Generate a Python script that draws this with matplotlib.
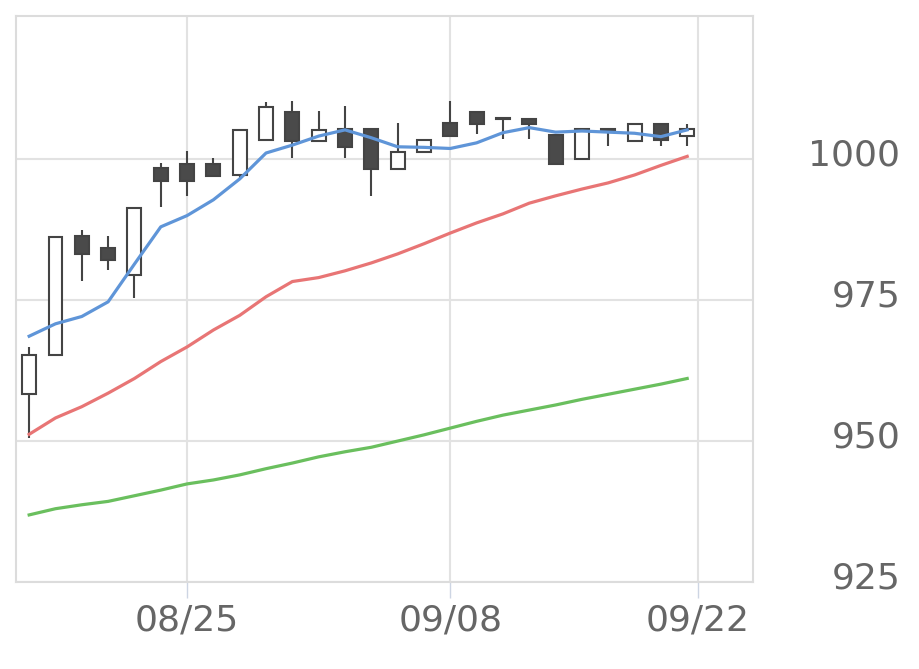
import numpy as np
import matplotlib.pyplot as plt
from matplotlib.transforms import ScaledTranslation

# daily candles (trading days only)
dates = ["08/15", "08/18", "08/19", "08/20", "08/21", "08/22", "08/25", "08/26", "08/27",
         "08/28", "08/29", "09/01", "09/02", "09/03", "09/04", "09/05", "09/08", "09/09",
         "09/10", "09/11", "09/12", "09/16", "09/17", "09/18", "09/19", "09/22"]
opens = [958.4, 965.2, 986.3, 984.2, 979.4, 998.4, 999.2, 999.2, 997.2, 1003.4, 1008.4, 1003.2, 1005.3,
         1005.3, 998.2, 1001.3, 1006.4, 1008.4, 1007.3, 1007.2, 1004.3, 1000.1, 1005.3, 1003.2, 1006.3, 1004.2]
closes = [965.2, 986.2, 983.2, 982.2, 991.3, 996.2, 996.2, 997.1, 1005.1, 1009.2, 1003.2, 1005.1, 1002.1,
          998.2, 1001.3, 1003.4, 1004.1, 1006.2, 1007.1, 1006.2, 999.1, 1005.3, 1005.2, 1006.3, 1003.4, 1005.3]
highs = [966.6, 986.2, 987.5, 986.3, 991.3, 999.3, 1001.4, 1000.2, 1005.1, 1010.2, 1010.3, 1008.5, 1009.4,
         1005.3, 1006.4, 1003.4, 1010.3, 1008.4, 1007.3, 1007.2, 1004.3, 1005.3, 1005.3, 1006.3, 1006.3, 1006.3]
lows = [950.5, 965.2, 978.4, 980.4, 975.4, 991.5, 993.5, 997.1, 996.5, 1003.4, 1000.3, 1003.2, 1000.3,
        993.5, 998.2, 1001.3, 1004.1, 1004.4, 1003.5, 1003.5, 999.1, 1000.1, 1002.4, 1003.2, 1002.4, 1002.4]

# moving averages
ma_short = [968.6, 970.8, 972.1, 974.7, 981.4, 988.0, 990.0, 992.8, 996.5, 1001.1, 1002.5, 1004.1, 1005.2,
            1003.8, 1002.2, 1002.1, 1001.9, 1002.9, 1004.7, 1005.6, 1004.8, 1005.0, 1004.8, 1004.6, 1004.0, 1005.2]
ma_mid = [951.2, 954.1, 956.1, 958.5, 961.1, 964.1, 966.7, 969.7, 972.3, 975.6, 978.3, 979.0, 980.2,
          981.6, 983.2, 985.0, 986.9, 988.7, 990.3, 992.2, 993.5, 994.7, 995.8, 997.2, 998.9, 1000.5]
ma_long = [936.9, 938.0, 938.7, 939.3, 940.3, 941.3, 942.4, 943.1, 944.0, 945.1, 946.1, 947.2, 948.1,
           948.9, 950.0, 951.1, 952.3, 953.5, 954.6, 955.5, 956.4, 957.4, 958.3, 959.2, 960.1, 961.1]

tick_dates = ["08/25", "09/08", "09/22"]
y_ticks = [925, 950, 975, 1000]

fig = plt.figure(figsize=(9.2, 6.69), dpi=100)
ax = fig.add_axes([16 / 920, 1 - 582 / 669, (753 - 16) / 920, (582 - 16) / 669])

x = np.arange(len(dates))
o = np.array(opens)
c = np.array(closes)
up = c >= o

ax.vlines(x, lows, highs, color="#444444", lw=1.5, zorder=2)
ax.bar(x, np.maximum(np.abs(c - o), 0.15), bottom=np.minimum(o, c), width=0.53,
       color=np.where(up, "white", "#4a4a4a"), edgecolor="#444444", linewidth=1.5, zorder=3)

ax.plot(x, ma_long, color="#6abf5e", lw=2.3, zorder=4)
ax.plot(x, ma_mid, color="#e87575", lw=2.3, zorder=4)
ax.plot(x, ma_short, color="#5f95d8", lw=2.3, zorder=4)

ax.set_xlim(-0.5, 27.5)
ax.set_ylim(925, 1025.4)

# the last label sits a bit right of its candle in the original
tick_pos = [dates.index(d) for d in tick_dates]
tick_pos[-1] += 0.4
ax.set_xticks(tick_pos)
ax.set_xticklabels(tick_dates)
ax.set_yticks(y_ticks)

ax.yaxis.tick_right()
ax.tick_params(axis="y", length=0, pad=106, labelsize=26, labelcolor="#666666")
shift = ScaledTranslation(0, 5 / 72, fig.dpi_scale_trans)
for lbl in ax.get_yticklabels():
    lbl.set_ha("right")
    lbl.set_transform(lbl.get_transform() + shift)
ax.tick_params(axis="x", length=11.5, width=1, color="#cdd5e3", pad=4, labelsize=26, labelcolor="#666666")

ax.grid(True, color="#e2e2e2", lw=1.5, zorder=0)
ax.set_axisbelow(True)
for sp in ax.spines.values():
    sp.set_color("#dcdcdc")
    sp.set_linewidth(1.5)

fig.savefig("out.png", dpi=100)
